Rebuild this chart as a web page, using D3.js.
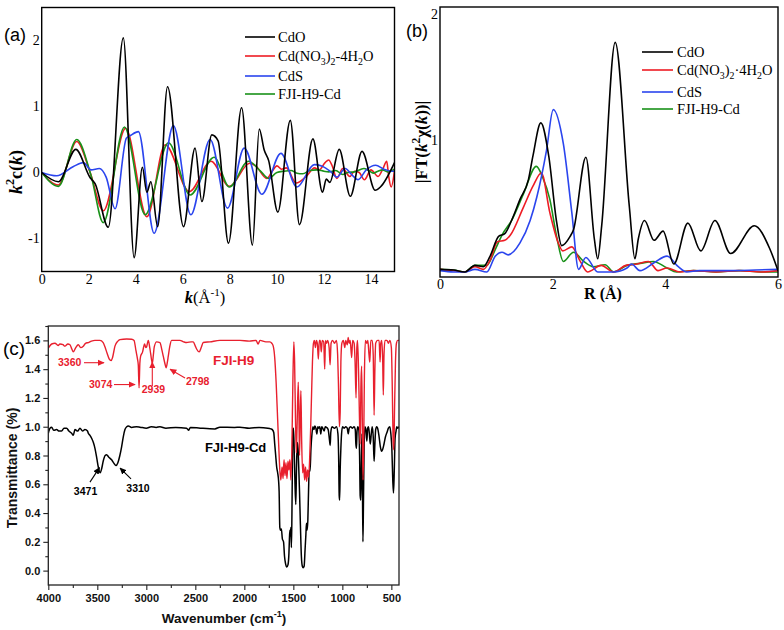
<!DOCTYPE html>
<html><head><meta charset="utf-8">
<script src="https://cdn.jsdelivr.net/npm/d3@7"></script>
<style>body{margin:0;background:#fff}svg{display:block}</style>
</head><body><svg id="chart" width="784" height="630"></svg>
<script>
// ---------- DATA ----------
// Panel (a): k^2 chi(k) vs k  [k, value]
const exafsCdO = [[0,0],[0.71,-0.14],[1.45,0.35],[2.06,-0.08],[2.27,-0.17],[2.83,-0.83],[3.47,2.04],[3.93,-1.29],[4.28,0.08],[4.47,-0.30],[4.64,-0.14],[4.93,-0.82],[5.35,1.30],[6.03,-0.82],[6.52,0.37],[6.81,-0.44],[7.23,0.57],[7.5,0.48],[7.94,-1.07],[8.5,0.98],[8.96,-1.10],[9.25,0.66],[9.46,0.34],[9.65,0.18],[10.04,-0.6],[10.57,0.79],[10.96,-0.79],[11.53,0.51],[11.94,-0.30],[12.1,-0.1],[12.25,-0.15],[12.65,0.35],[13.12,-0.36],[13.62,0.32],[14.18,-0.27],[14.4,-0.22],[15,0.15]];
const exafsNitrate = [[0,0],[0.71,-0.19],[1.49,0.47],[2.06,0.0],[2.62,-0.58],[3.57,0.67],[4.47,-0.67],[5.25,0.42],[6.28,-0.29],[7.2,0.17],[7.98,-0.21],[8.84,0.14],[9.1,0.10],[9.57,-0.09],[9.8,0.02],[10.0,0.10],[10.2,0.05],[10.4,0.07],[10.82,-0.16],[11.27,-0.05],[11.6,0.07],[11.8,0.04],[12.05,0.15],[12.2,0.19],[12.34,0.11],[12.55,-0.09],[12.8,0.06],[13.1,-0.06],[13.3,0.02],[13.5,0.0],[13.72,-0.11],[14.0,0.04],[14.3,-0.06],[14.5,0.05],[14.67,0.17],[14.75,-0.05],[14.86,-0.22],[15,0.02]];
const exafsCdS = [[0,0],[0.64,-0.05],[1.35,0.09],[1.77,0.15],[2.1,0.04],[2.45,0.06],[2.74,-0.07],[3.12,-0.55],[3.6,0.52],[3.77,0.56],[4.11,0.62],[4.78,-0.92],[5.6,0.71],[6.34,-0.64],[7.16,0.50],[7.9,-0.54],[8.61,0.37],[9.36,-0.33],[10.17,0.29],[10.85,-0.22],[11.59,0.12],[11.9,0.10],[12.3,0.01],[12.55,-0.07],[12.9,0.06],[13.2,-0.04],[13.45,-0.11],[13.8,0.04],[14.2,0.11],[14.55,0.05],[14.9,0.02],[15,0.02]];
const exafsFJI = [[0,0],[0.71,-0.21],[1.49,0.50],[2.1,-0.05],[2.62,-0.76],[3.52,0.69],[4.40,-0.64],[5.39,0.45],[6.31,-0.34],[7.33,0.23],[7.98,-0.22],[8.79,0.17],[9.28,0.03],[9.65,-0.09],[10.0,0.0],[10.3,0.02],[10.6,0.03],[10.85,-0.01],[11.1,-0.02],[11.4,0.03],[11.7,0.04],[12.0,0.02],[12.2,0.01],[12.5,0.03],[12.8,-0.03],[13.0,0.0],[13.3,0.01],[13.7,0.06],[13.9,0.03],[14.1,-0.01],[14.3,0.02],[14.5,0.04],[14.7,0.01],[15,0.05]];

// Panel (b): |FT| vs R  [R, value]
const ftCdO = [[0,0.02],[0.24,0.015],[0.44,0.0],[0.62,0.05],[0.77,0.04],[0.89,0.12],[1.04,0.27],[1.15,0.29],[1.27,0.39],[1.42,0.55],[1.57,0.70],[1.65,0.88],[1.79,1.13],[1.93,0.88],[2.07,0.38],[2.16,0.20],[2.31,0.27],[2.37,0.32],[2.59,0.87],[2.74,0.25],[2.80,0.10],[2.87,0.35],[3.11,1.74],[3.36,0.5],[3.46,0.10],[3.52,0.25],[3.63,0.39],[3.80,0.24],[3.96,0.31],[4.15,0.06],[4.40,0.37],[4.63,0.16],[4.88,0.39],[5.16,0.14],[5.58,0.35],[5.85,0.18],[6.0,0.01]];
const ftNitrate = [[0,0.02],[0.24,0.01],[0.44,0.0],[0.62,0.04],[0.77,0.02],[0.89,0.09],[1.02,0.23],[1.15,0.24],[1.25,0.28],[1.48,0.49],[1.65,0.65],[1.80,0.75],[1.95,0.45],[2.1,0.22],[2.18,0.16],[2.34,0.19],[2.49,0.08],[2.62,0.0],[2.86,0.05],[3.08,0.0],[3.3,0.05],[3.5,0.06],[3.7,0.08],[3.87,0.01],[4.03,0.03],[4.26,0.0],[4.5,0.01],[4.9,0.0],[5.3,0.01],[5.7,0.0],[6.0,0.01]];
const ftCdS = [[0,0.01],[0.24,0.0],[0.44,0.0],[0.62,0.02],[0.83,0.0],[0.98,0.12],[1.1,0.15],[1.21,0.13],[1.42,0.22],[1.6,0.39],[1.72,0.57],[1.89,0.92],[2.01,1.23],[2.19,0.97],[2.34,0.45],[2.46,0.02],[2.59,0.11],[2.8,0.0],[3.08,0.0],[3.32,0.03],[3.4,0.06],[3.55,0.01],[3.8,0.07],[4.03,0.12],[4.23,0.04],[4.38,0.0],[4.6,0.01],[5.0,0.01],[5.6,0.015],[6.0,0.02]];
const ftFJI = [[0,0.02],[0.24,0.015],[0.44,0.0],[0.62,0.05],[0.83,0.05],[0.98,0.17],[1.1,0.28],[1.27,0.39],[1.48,0.59],[1.71,0.80],[1.82,0.72],[1.95,0.55],[2.07,0.27],[2.19,0.08],[2.37,0.15],[2.55,0.08],[2.72,0.04],[2.93,0.055],[3.08,0.0],[3.32,0.05],[3.55,0.065],[3.79,0.08],[4.03,0.03],[4.2,0.0],[4.5,0.01],[4.9,0.0],[5.33,0.01],[5.7,0.0],[6.0,0.0]];

// Panel (c): FTIR transmittance  [wavenumber, value]
const irFJIH9 = [[4000,1.547],[3966,1.575],[3932,1.58],[3900,1.565],[3881,1.575],[3850,1.57],[3830,1.56],[3800,1.575],[3779,1.57],[3760,1.54],[3745,1.52],[3720,1.55],[3694,1.57],[3670,1.55],[3643,1.56],[3620,1.58],[3592,1.585],[3560,1.595],[3524,1.60],[3473,1.60],[3440,1.585],[3422,1.555],[3400,1.51],[3378,1.47],[3360,1.46],[3345,1.48],[3320,1.56],[3290,1.595],[3269,1.605],[3201,1.61],[3150,1.608],[3125,1.60],[3106,1.53],[3090,1.47],[3082,1.43],[3074,1.27],[3066,1.44],[3058,1.49],[3038,1.52],[3025,1.56],[3018,1.575],[3005,1.55],[2997,1.555],[2980,1.60],[2965,1.55],[2956,1.51],[2939,1.44],[2928,1.50],[2919,1.555],[2895,1.59],[2861,1.585],[2840,1.53],[2827,1.49],[2803,1.42],[2798,1.41],[2785,1.45],[2776,1.49],[2760,1.56],[2742,1.60],[2657,1.60],[2620,1.59],[2589,1.585],[2540,1.59],[2521,1.59],[2500,1.56],[2487,1.54],[2460,1.52],[2440,1.55],[2419,1.585],[2351,1.59],[2249,1.60],[2100,1.60],[2045,1.60],[1950,1.595],[1880,1.60],[1860,1.575],[1840,1.60],[1780,1.59],[1740,1.59],[1720,1.58],[1705,1.56],[1690,1.48],[1675,1.30],[1660,1.05],[1648,0.85],[1638,0.70],[1628,0.63],[1615,0.72],[1605,0.64],[1595,0.77],[1585,0.66],[1575,0.75],[1565,0.64],[1555,0.76],[1545,0.70],[1535,0.77],[1525,0.63],[1515,0.85],[1505,1.30],[1495,1.59],[1487,1.45],[1478,1.05],[1470,0.82],[1462,1.00],[1450,1.31],[1443,1.10],[1437,0.80],[1430,1.05],[1423,1.25],[1415,0.90],[1405,0.68],[1395,0.74],[1385,0.63],[1375,0.72],[1365,0.62],[1355,0.70],[1345,0.65],[1335,0.75],[1325,0.95],[1315,1.20],[1305,1.45],[1295,1.58],[1285,1.60],[1275,1.55],[1265,1.60],[1255,1.58],[1245,1.47],[1235,1.60],[1225,1.60],[1215,1.52],[1205,1.60],[1190,1.59],[1180,1.40],[1172,1.60],[1160,1.58],[1150,1.60],[1135,1.55],[1125,1.43],[1115,1.58],[1100,1.60],[1080,1.58],[1060,1.60],[1048,1.50],[1040,1.30],[1030,1.00],[1022,1.10],[1015,1.45],[1005,1.58],[990,1.60],[975,1.55],[965,1.60],[950,1.57],[940,1.62],[930,1.58],[920,1.60],[905,1.48],[895,1.60],[880,1.58],[870,1.45],[860,1.20],[852,1.55],[845,1.60],[835,1.40],[825,1.05],[818,0.88],[810,1.30],[803,1.42],[795,0.95],[789,0.63],[782,0.90],[775,1.35],[765,1.60],[750,1.58],[740,1.60],[728,1.50],[720,1.45],[710,1.60],[695,1.60],[685,1.50],[676,1.08],[668,1.40],[660,1.58],[640,1.60],[625,1.60],[615,1.45],[608,1.58],[598,1.60],[588,1.45],[582,1.22],[575,1.50],[565,1.60],[545,1.60],[530,1.58],[515,1.60],[500,1.55],[490,1.25],[482,0.90],[475,0.84],[468,1.10],[458,1.45],[448,1.58],[435,1.60],[422,1.60]];
const irFJIH9Cd = [[4000,0.955],[3983,0.99],[3966,0.997],[3945,0.975],[3915,0.98],[3890,0.97],[3864,0.97],[3840,0.99],[3813,0.99],[3790,0.97],[3762,0.955],[3745,0.94],[3728,0.98],[3700,0.97],[3677,0.99],[3650,0.97],[3626,0.98],[3600,0.97],[3592,0.955],[3575,0.94],[3558,0.92],[3540,0.89],[3524,0.85],[3505,0.78],[3490,0.72],[3471,0.68],[3455,0.71],[3440,0.76],[3420,0.80],[3405,0.805],[3385,0.79],[3354,0.77],[3330,0.745],[3310,0.73],[3290,0.75],[3270,0.80],[3252,0.86],[3235,0.93],[3218,0.98],[3200,1.0],[3184,1.005],[3150,0.995],[3100,1.0],[3065,0.997],[3000,0.99],[2950,1.0],[2900,0.995],[2861,1.0],[2800,0.99],[2700,0.995],[2589,0.99],[2570,0.975],[2550,0.995],[2450,0.99],[2300,0.985],[2250,0.997],[2100,0.995],[2045,0.997],[1950,0.99],[1850,0.995],[1760,0.99],[1730,0.985],[1715,0.98],[1700,0.96],[1690,0.88],[1680,0.80],[1670,0.72],[1660,0.68],[1650,0.62],[1645,0.55],[1638,0.30],[1630,0.28],[1622,0.29],[1612,0.22],[1600,0.20],[1590,0.10],[1580,0.05],[1567,0.025],[1555,0.04],[1545,0.12],[1540,0.22],[1535,0.28],[1530,0.24],[1525,0.30],[1520,0.16],[1515,0.35],[1510,0.70],[1505,0.98],[1498,0.99],[1490,0.80],[1483,0.60],[1475,0.46],[1468,0.70],[1460,0.89],[1452,0.85],[1445,0.72],[1437,0.55],[1428,0.32],[1418,0.10],[1408,0.03],[1400,0.02],[1390,0.03],[1380,0.15],[1372,0.25],[1366,0.33],[1360,0.28],[1352,0.35],[1345,0.55],[1338,0.70],[1330,0.69],[1320,0.85],[1310,0.95],[1300,1.0],[1290,0.98],[1280,1.005],[1270,0.99],[1260,0.95],[1250,1.0],[1240,0.99],[1230,1.0],[1220,0.95],[1210,1.0],[1200,0.99],[1185,0.97],[1175,1.0],[1160,0.995],[1145,0.98],[1130,0.90],[1124,0.87],[1118,0.96],[1105,1.0],[1080,0.99],[1060,1.0],[1045,0.95],[1038,0.80],[1032,0.52],[1028,0.49],[1022,0.70],[1015,0.85],[1008,0.95],[998,1.0],[980,0.99],[965,1.0],[950,0.99],[940,0.95],[930,0.99],[915,1.0],[900,0.99],[880,1.0],[868,0.98],[862,0.88],[856,0.85],[850,0.97],[842,1.0],[832,0.98],[824,0.80],[818,0.52],[812,0.49],[806,0.75],[800,0.95],[795,0.60],[790,0.20],[785,0.45],[778,0.85],[770,1.0],[760,0.98],[750,0.90],[742,0.99],[733,1.0],[722,0.93],[715,0.88],[705,0.95],[695,1.0],[685,0.93],[676,0.76],[668,0.88],[660,0.98],[650,1.0],[640,0.99],[625,0.93],[612,0.86],[600,0.83],[590,0.84],[575,0.88],[560,0.93],[545,0.96],[530,0.99],[515,1.0],[505,0.95],[495,0.85],[485,0.62],[478,0.54],[470,0.70],[462,0.92],[452,0.97],[445,1.0],[435,0.99],[422,1.0]];

// tick values
const ticksAx = [0,2,4,6,8,10,12,14];
const ticksAy = [-1,0,1,2];
const ticksBx = [0,2,4,6];
const ticksBy = [1,2];
const ticksCx = [4000,3500,3000,2500,2000,1500,1000,500];
const ticksCy = [0,0.2,0.4,0.6,0.8,1.0,1.2,1.4,1.6];

// legend names
const legendNames = ["CdO","Cd(NO3)2·4H2O","CdS","FJI-H9-Cd"];

// FTIR peak annotations  [label, text wavenumber, text value, anchor, arrow x1, y1, x2, y2, colour]
const irNotes = [
  ["3360",3901,1.422,"start",3636,1.445,3432,1.445,"red"],
  ["3074",3585,1.269,"start",3330,1.293,3115,1.293,"red"],
  ["2939",2927,1.234,"middle",2939,1.283,2939,1.45,"red"],
  ["2798",2595,1.290,"start",2605,1.338,2758,1.40,"red"],
  ["3471",3620,0.525,"middle",3575,0.615,3478,0.716,"black"],
  ["3310",3085,0.546,"middle",3156,0.637,3268,0.713,"black"]
];

// ---------- DRAWING ----------
const SERIF = '"Liberation Serif","Times New Roman",serif';
const SANS = '"Liberation Sans",Arial,Helvetica,sans-serif';
const COLORS = {black:"#000000", red:"#ee1c24", blue:"#2b45ee", green:"#1a921a", irRed:"#e8202e"};
const svg = d3.select("#chart");

const defs = svg.append("defs");
function addClip(id, x0, y0, x1, y1){
  defs.append("clipPath").attr("id", id).append("rect")
    .attr("x", Math.min(x0,x1)).attr("y", Math.min(y0,y1))
    .attr("width", Math.abs(x1-x0)).attr("height", Math.abs(y1-y0));
}
["red","black"].forEach(c=>{
  defs.append("marker").attr("id","arr-"+c).attr("viewBox","0 0 10 10")
    .attr("refX",9).attr("refY",5).attr("markerWidth",7).attr("markerHeight",7)
    .attr("markerUnits","userSpaceOnUse").attr("orient","auto")
    .append("path").attr("d","M0,0.5 L10,5 L0,9.5 z").attr("fill", c==="red"?COLORS.irRed:"#000");
});

// rich text with sub/superscripts; mode: null | "sub" | "sup" | "i" | "ib"
function richSub(sel, parts, size){
  let shift = 0;
  parts.forEach(([t,m])=>{
    const ts = sel.append("tspan").text(t);
    let target = 0;
    if(m==="sub") { target = size*0.3; ts.attr("font-size", size*0.68); }
    if(m==="sup") { target = -size*0.42; ts.attr("font-size", size*0.68); }
    if(m==="i" || m==="ib") ts.attr("font-style","italic");
    if(m==="ib") ts.attr("font-weight","bold");
    ts.attr("dy", target - shift);
    shift = target;
  });
}

// ===== Panel (a) =====
const xA = d3.scaleLinear().domain([0,15]).range([41.7,394.5]);
const yA = d3.scaleLinear().domain([-1.5,2.5]).range([271.5,7.5]);
addClip("clipA", xA.range()[0], yA.range()[1], xA.range()[1], yA.range()[0]);
const gA = svg.append("g");
const lineA = d3.line().x(d=>xA(d[0])).y(d=>yA(d[1])).curve(d3.curveMonotoneX);
const seriesA = [[exafsCdO,COLORS.black],[exafsNitrate,COLORS.red],[exafsCdS,COLORS.blue],[exafsFJI,COLORS.green]];
const gAl = gA.append("g").attr("clip-path","url(#clipA)");
gAl.selectAll("path").data([seriesA[1],seriesA[3],seriesA[2],seriesA[0]]).join("path")
  .attr("d", d=>lineA(d[0])).attr("fill","none").attr("stroke", d=>d[1]).attr("stroke-width",1.6);

const axAx = gA.append("g").attr("transform",`translate(0,${yA.range()[0]})`)
  .call(d3.axisBottom(xA).tickValues(ticksAx).tickSize(0).tickPadding(3).tickFormat(d=>String(d)));
const axAy = gA.append("g").attr("transform",`translate(${xA.range()[0]},0)`)
  .call(d3.axisLeft(yA).tickValues(ticksAy).tickSize(0).tickPadding(2).tickFormat(d=>String(d)));
[axAx,axAy].forEach(a=>{a.select(".domain").remove(); a.selectAll("text").attr("font-family",SERIF).attr("font-size",14).attr("fill","#000");});
gA.append("rect").attr("x",xA.range()[0]).attr("y",yA.range()[1]).attr("width",xA.range()[1]-xA.range()[0]).attr("height",yA.range()[0]-yA.range()[1])
  .attr("fill","none").attr("stroke","#000").attr("stroke-width",1.4);

// legend (a)
const legA = gA.append("g");
const legAy = [37,56,76,94];
seriesA.forEach((s,i)=>{
  legA.append("line").attr("x1",245).attr("x2",275).attr("y1",legAy[i]).attr("y2",legAy[i]).attr("stroke",s[1]).attr("stroke-width",1.6);
});
function legendText(g, x, ys, sep){
  const fs = 14.5;
  g.append("text").attr("x",x).attr("y",ys[0]+5).attr("font-family",SERIF).attr("font-size",fs).text(legendNames[0]);
  const t = g.append("text").attr("x",x).attr("y",ys[1]+5).attr("font-family",SERIF).attr("font-size",fs);
  richSub(t, [["Cd(NO",null],["3","sub"],[")",null],["2","sub"],[sep+"4H",null],["2","sub"],["O",null]], fs);
  g.append("text").attr("x",x).attr("y",ys[2]+5).attr("font-family",SERIF).attr("font-size",fs).text(legendNames[2]);
  g.append("text").attr("x",x).attr("y",ys[3]+5).attr("font-family",SERIF).attr("font-size",fs).text(legendNames[3]);
}
legendText(legA, 278, legAy, "-");

// labels (a)
svg.append("text").attr("x",4).attr("y",41).attr("font-family",SANS).attr("font-size",18).text("(a)");
const yLabA = svg.append("text").attr("transform","translate(22,172) rotate(-90)").attr("text-anchor","middle")
  .attr("font-family",SERIF).attr("font-size",18).attr("font-weight","bold");
richSub(yLabA, [["k","i"],["2","sup"],["c",null],["(",null],["k","i"],[")",null]], 18);
const xLabA = svg.append("text").attr("x",205).attr("y",303).attr("text-anchor","middle")
  .attr("font-family",SERIF).attr("font-size",16.5);
richSub(xLabA, [["k","ib"],["(Å",null],["-1","sup"],[")",null]], 16.5);

// ===== Panel (b) =====
const xB = d3.scaleLinear().domain([0,6]).range([440,778]);
const yB = d3.scaleLinear().domain([-0.038,2.008]).range([277,7]);
addClip("clipB", xB.range()[0], yB.range()[1], xB.range()[1], yB.range()[0]);
const gB = svg.append("g");
const lineB = d3.line().x(d=>xB(d[0])).y(d=>yB(d[1])).curve(d3.curveMonotoneX);
const seriesB = [[ftCdO,COLORS.black],[ftNitrate,COLORS.red],[ftCdS,COLORS.blue],[ftFJI,COLORS.green]];
gB.append("g").attr("clip-path","url(#clipB)").selectAll("path").data([seriesB[3],seriesB[1],seriesB[2],seriesB[0]]).join("path")
  .attr("d", d=>lineB(d[0])).attr("fill","none").attr("stroke", d=>d[1]).attr("stroke-width",1.6);
const axBx = gB.append("g").attr("transform",`translate(0,${yB.range()[0]})`)
  .call(d3.axisBottom(xB).tickValues(ticksBx).tickSize(0).tickPadding(2.5).tickFormat(d=>String(d)));
const axBy = gB.append("g").attr("transform",`translate(${xB.range()[0]},0)`)
  .call(d3.axisLeft(yB).tickValues(ticksBy).tickSize(0).tickPadding(2).tickFormat(d=>String(d)));
[axBx,axBy].forEach(a=>{a.select(".domain").remove(); a.selectAll("text").attr("font-family",SERIF).attr("font-size",14).attr("fill","#000");});
axBy.selectAll(".tick text").filter(d=>d===2).attr("dy","0.75em");
gB.append("rect").attr("x",xB.range()[0]).attr("y",yB.range()[1]).attr("width",xB.range()[1]-xB.range()[0]).attr("height",yB.range()[0]-yB.range()[1])
  .attr("fill","none").attr("stroke","#000").attr("stroke-width",1.4);
const legB = gB.append("g");
const legBy = [52,70,92,109];
seriesB.forEach((s,i)=>{
  legB.append("line").attr("x1",642).attr("x2",673).attr("y1",legBy[i]).attr("y2",legBy[i]).attr("stroke",s[1]).attr("stroke-width",1.6);
});
legendText(legB, 677, legBy, "·");
svg.append("text").attr("x",406).attr("y",37).attr("font-family",SANS).attr("font-size",18).text("(b)");
const yLabB = svg.append("text").attr("transform","translate(427,142) rotate(-90)").attr("text-anchor","middle")
  .attr("font-family",SERIF).attr("font-size",17).attr("font-weight","bold");
richSub(yLabB, [["|FT(",null],["k","i"],["2","sup"],["χ(",null],["k","i"],["))|",null]], 17);
svg.append("text").attr("x",603).attr("y",299).attr("text-anchor","middle").attr("font-family",SERIF)
  .attr("font-size",16).attr("font-weight","bold").text("R (Å)");

// ===== Panel (c) =====
const xC = d3.scaleLinear().domain([4000,422]).range([48.3,399]);
const yC = d3.scaleLinear().domain([-0.1,1.7]).range([585,326]);
addClip("clipC", xC.range()[0], yC.range()[1], xC.range()[1], yC.range()[0]);
const gC = svg.append("g");
const lineC = d3.line().x(d=>xC(d[0])).y(d=>yC(d[1])).curve(d3.curveMonotoneX);
const gCl = gC.append("g").attr("clip-path","url(#clipC)");
gCl.append("path").attr("d", lineC(irFJIH9Cd)).attr("fill","none").attr("stroke","#000").attr("stroke-width",1.5);
gCl.append("path").attr("d", lineC(irFJIH9)).attr("fill","none").attr("stroke",COLORS.irRed).attr("stroke-width",1.4);

// minor ticks
const minorCx = d3.range(3750, 400, -500);
const minorCy = d3.range(-0.1, 1.71, 0.2).map(v=>+v.toFixed(2)).filter(v=>v>-0.1);
gC.append("g").attr("transform",`translate(0,${yC.range()[0]})`)
  .call(d3.axisBottom(xC).tickValues(minorCx).tickSize(3).tickFormat(""))
  .call(a=>a.select(".domain").remove());
gC.append("g").attr("transform",`translate(${xC.range()[0]},0)`)
  .call(d3.axisLeft(yC).tickValues(minorCy).tickSize(3).tickFormat(""))
  .call(a=>a.select(".domain").remove());
const axCx = gC.append("g").attr("transform",`translate(0,${yC.range()[0]})`)
  .call(d3.axisBottom(xC).tickValues(ticksCx).tickSize(5).tickPadding(4).tickFormat(d=>String(d)));
const axCy = gC.append("g").attr("transform",`translate(${xC.range()[0]},0)`)
  .call(d3.axisLeft(yC).tickValues(ticksCy).tickSize(5).tickPadding(3).tickFormat(d3.format(".1f")));
[axCx,axCy].forEach(a=>{a.select(".domain").remove(); a.selectAll("text").attr("font-family",SANS).attr("font-size",11).attr("font-weight","bold").attr("fill","#111");});
gC.selectAll(".tick line").attr("stroke","#222").attr("stroke-width",1.1);
gC.append("rect").attr("x",xC.range()[0]).attr("y",yC.range()[1]).attr("width",xC.range()[1]-xC.range()[0]).attr("height",yC.range()[0]-yC.range()[1])
  .attr("fill","none").attr("stroke","#222").attr("stroke-width",1.3);

// annotations
irNotes.forEach(([lab,tx,ty,anc,x1,y1,x2,y2,c])=>{
  const col = c==="red"?COLORS.irRed:"#000";
  gC.append("line").attr("x1",xC(x1)).attr("y1",yC(y1)).attr("x2",xC(x2)).attr("y2",yC(y2))
    .attr("stroke",col).attr("stroke-width",1.1).attr("marker-end",`url(#arr-${c})`);
  gC.append("text").attr("x",xC(tx)).attr("y",yC(ty)).attr("text-anchor",anc).attr("font-family",SANS)
    .attr("font-size",10.5).attr("font-weight","bold").attr("fill",col).text(lab);
});
gC.append("text").attr("x",xC(2320)).attr("y",yC(1.429)).attr("font-family",SANS).attr("font-size",13.5)
  .attr("font-weight","bold").attr("fill",COLORS.irRed).text("FJI-H9");
gC.append("text").attr("x",xC(2402)).attr("y",yC(0.824)).attr("font-family",SANS).attr("font-size",13)
  .attr("font-weight","bold").attr("fill","#000").text("FJI-H9-Cd");

svg.append("text").attr("x",3).attr("y",355).attr("font-family",SANS).attr("font-size",19).text("(c)");
svg.append("text").attr("transform","translate(17,468) rotate(-90)").attr("text-anchor","middle")
  .attr("font-family",SANS).attr("font-size",14).attr("font-weight","bold").attr("fill","#111").text("Transmittance (%)");
const xLabC = svg.append("text").attr("x",224).attr("y",623).attr("text-anchor","middle")
  .attr("font-family",SANS).attr("font-size",13.5).attr("font-weight","bold").attr("fill","#111");
richSub(xLabC, [["Wavenumber (cm",null],["-1","sup"],[")",null]], 13.5);
</script></body></html>
